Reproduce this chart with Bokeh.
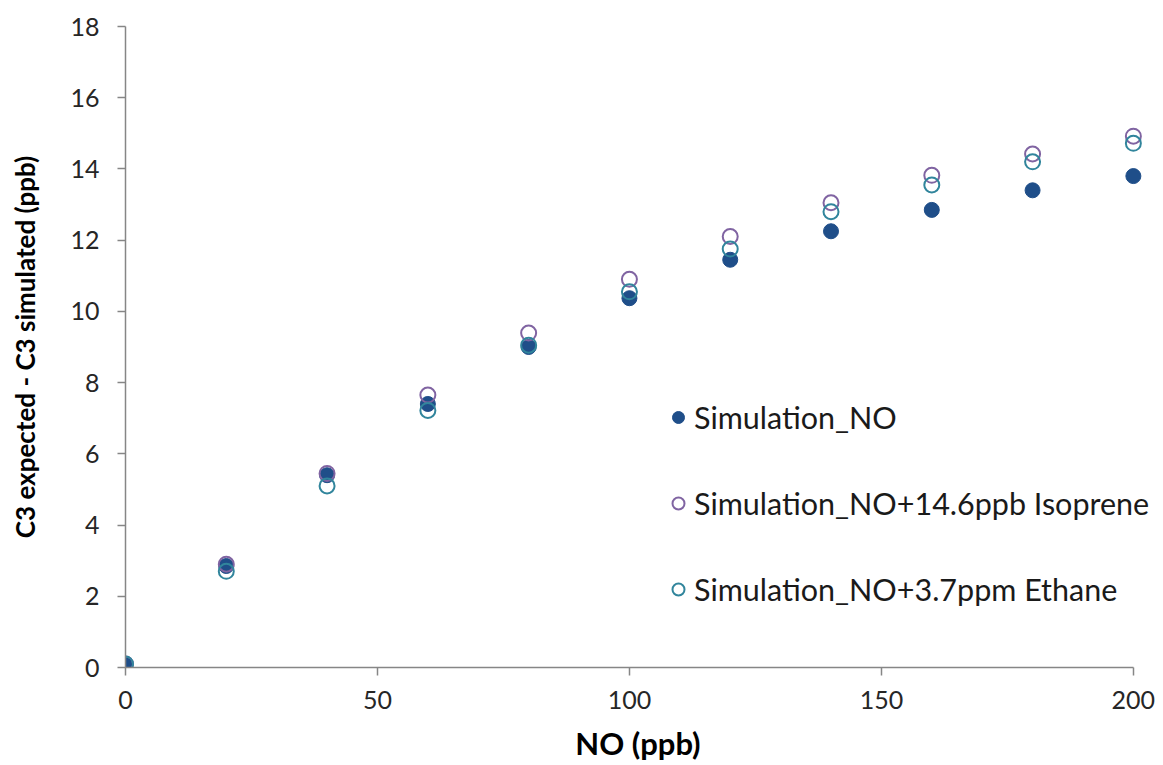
from bokeh.plotting import figure
from bokeh.models import Range1d, FixedTicker, Legend, LegendItem, ColumnDataSource
from bokeh.embed import file_html
from bokeh.resources import INLINE

# ---- data ----
no_ppb = [0, 20, 40, 60, 80, 100, 120, 140, 160, 180, 200]
sim_no = [0.1, 2.85, 5.4, 7.4, 9.0, 10.37, 11.45, 12.25, 12.85, 13.4, 13.8]
sim_isoprene = [0.1, 2.9, 5.45, 7.65, 9.39, 10.9, 12.1, 13.05, 13.82, 14.42, 14.92]
sim_ethane = [0.1, 2.7, 5.1, 7.22, 9.05, 10.55, 11.75, 12.8, 13.55, 14.2, 14.72]

x_ticks = [0, 50, 100, 150, 200]
y_ticks = [0, 2, 4, 6, 8, 10, 12, 14, 16, 18]

labels = ["Simulation_NO", "Simulation_NO+14.6ppb Isoprene", "Simulation_NO+3.7ppm Ethane"]

FONT = "Lato"
AXIS_GRAY = "#868686"

p = figure(width=1163, height=765, output_backend="svg", toolbar_location=None,
           x_range=Range1d(0, 203.4), y_range=Range1d(0, 18),
           min_border_left=125, min_border_right=13, min_border_top=26, min_border_bottom=98)
p.outline_line_color = None
p.xgrid.visible = False
p.ygrid.visible = False
p.background_fill_color = "white"
p.border_fill_color = "white"

src = ColumnDataSource(dict(x=no_ppb, a=sim_no, b=sim_isoprene, c=sim_ethane))

r1 = p.scatter("x", "a", source=src, size=15, marker="circle",
               fill_color="#1f4e89", line_color="#1f4e89", line_width=1)
r2 = p.scatter("x", "b", source=src, size=15, marker="circle",
               fill_color=None, line_color="#8064a2", line_width=2)
r3 = p.scatter("x", "c", source=src, size=15, marker="circle",
               fill_color=None, line_color="#31859c", line_width=2)

# axes
for ax in (p.xaxis[0], p.yaxis[0]):
    ax.axis_line_color = AXIS_GRAY
    ax.axis_line_width = 1.5
    ax.major_tick_line_color = AXIS_GRAY
    ax.major_tick_line_width = 1.5
    ax.major_tick_in = 0
    ax.major_tick_out = 8
    ax.minor_tick_line_color = None
    ax.major_label_text_font = FONT
    ax.major_label_text_font_size = "25px"
    ax.major_label_text_color = "#262626"
    ax.axis_label_text_font = FONT
    ax.axis_label_text_font_style = "bold"
    ax.axis_label_text_color = "#000000"

p.xaxis[0].axis_label_text_font_size = "31px"
p.yaxis[0].axis_label_text_font_size = "26px"
p.xaxis[0].ticker = FixedTicker(ticks=x_ticks)
p.yaxis[0].ticker = FixedTicker(ticks=y_ticks)
p.xaxis[0].bounds = (0, 200)
p.yaxis[0].bounds = (0, 18)
p.xaxis[0].axis_label = "NO (ppb)"
p.yaxis[0].axis_label = "C3 expected - C3 simulated (ppb)"
p.xaxis[0].major_label_standoff = 15
p.xaxis[0].axis_label_standoff = 12
p.yaxis[0].major_label_standoff = 18
p.yaxis[0].axis_label_standoff = 26

legend = Legend(items=[LegendItem(label=labels[0], renderers=[r1]),
                       LegendItem(label=labels[1], renderers=[r2]),
                       LegendItem(label=labels[2], renderers=[r3])],
                location=(538, 59), orientation="vertical",
                glyph_width=30, glyph_height=38, label_height=38,
                spacing=48, padding=0, margin=0, label_standoff=1,
                border_line_color=None, background_fill_alpha=0,
                label_text_font=FONT, label_text_font_size="30.5px",
                label_text_color="#1a1a1a")
p.add_layout(legend, "center")

open("out.html", "w").write(file_html(p, INLINE))
